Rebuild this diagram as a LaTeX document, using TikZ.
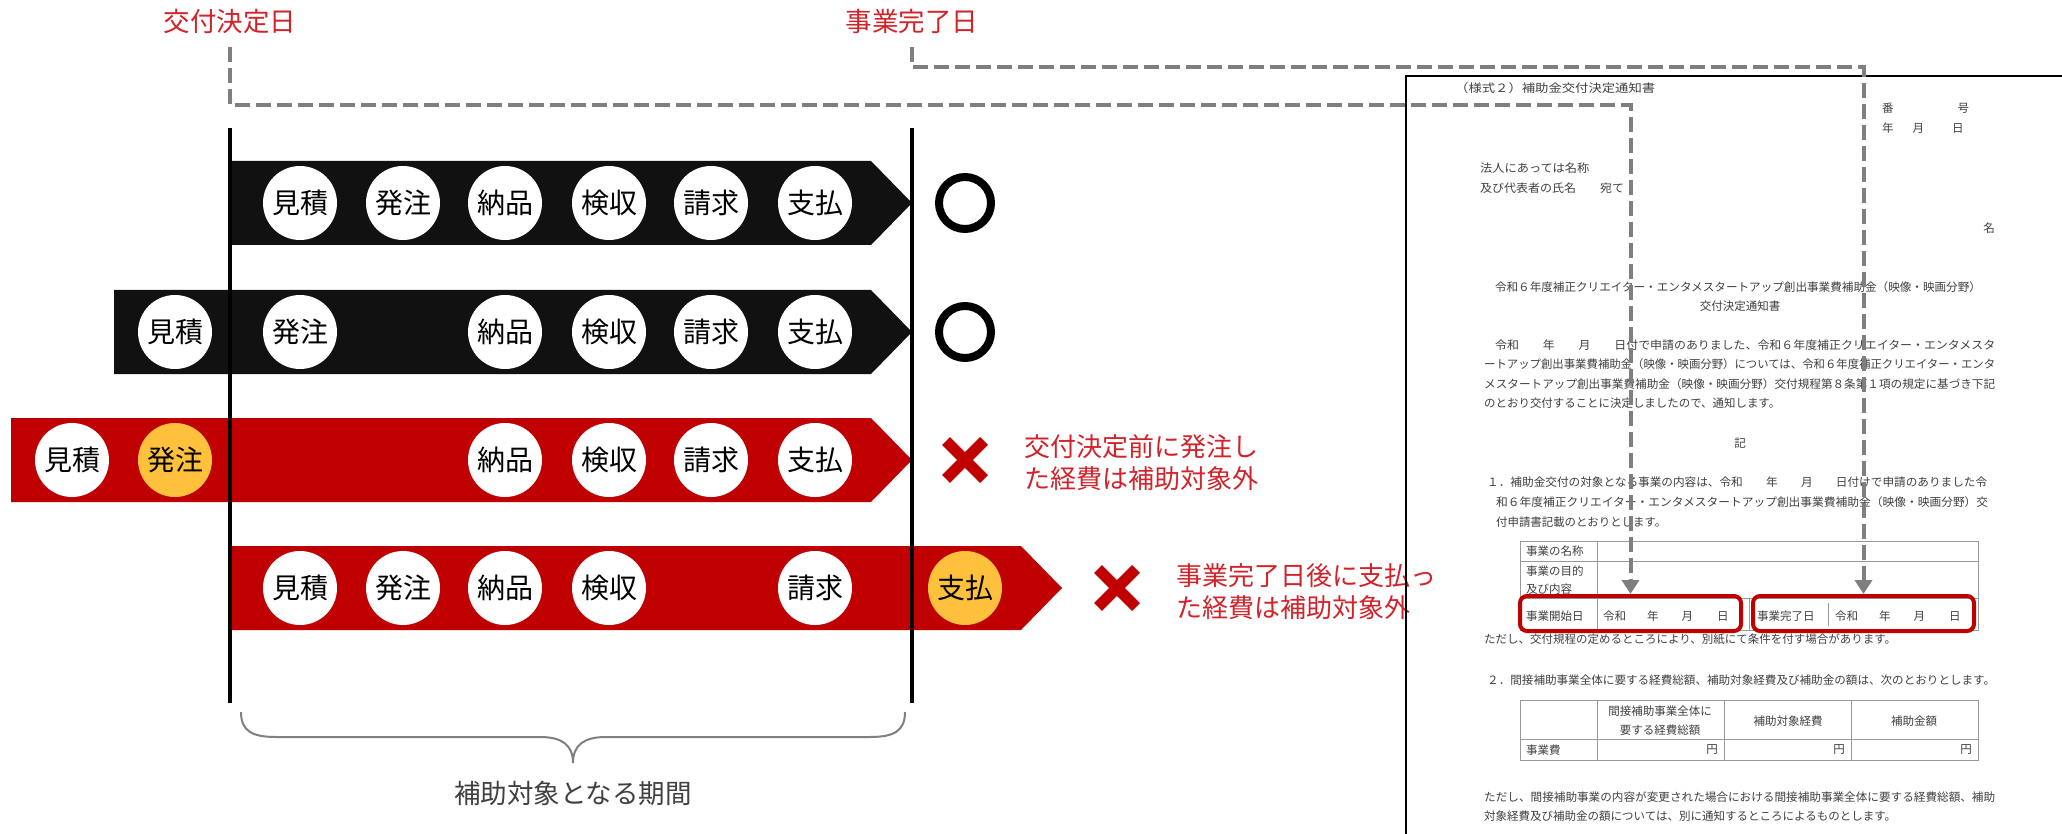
\documentclass[tikz,border=0pt]{standalone}
\usepackage{fontspec}
\setmainfont{Noto Sans CJK JP}
\usepackage{graphicx}
\usetikzlibrary{arrows.meta}
\definecolor{barblack}{HTML}{111111}
\definecolor{barred}{HTML}{C00000}
\definecolor{orng}{HTML}{FFC03C}
\definecolor{lblred}{RGB}{210,35,42}
\definecolor{dashgray}{HTML}{7F7F7F}
\definecolor{doccol}{HTML}{404040}
\newcommand{\dl}[5]{\node[doctext,anchor=west] (#1) at (#2,#3) {\resizebox{#4pt}{\height}{#5}};}
\newcommand{\rwdate}{令和\hspace{21pt}年\hspace{23pt}月\hspace{24pt}日}
\begin{document}
\begin{tikzpicture}[x=1pt,y=-1pt,
  stage/.style={circle, fill=white, minimum size=74pt, inner sep=0pt, font=\fontsize{28}{30}\selectfont, text=black},
  stagehi/.style={stage, fill=orng},
  lbl/.style={text=lblred, font=\fontsize{26.5}{30}\selectfont, inner sep=0pt},
  note/.style={text=lblred, font=\fontsize{26}{32}\selectfont, align=left, inner sep=0pt, anchor=west},
  vline/.style={line width=3.3pt, black},
  dashconn/.style={dashgray, line width=4pt, dash pattern=on 15pt off 6pt, -{Triangle[width=17pt,length=14pt]}},
  okmark/.style={line width=8pt, black},
  ngmark/.style={barred, line width=11pt},
  doctext/.style={text=doccol, font=\fontsize{11.5}{13}\selectfont, inner sep=0pt},
  redbox/.style={draw=barred, line width=4pt, rounded corners=7pt, inner sep=0pt},
  tbl/.style={draw=gray!80, line width=1pt},
  bracestyle/.style={draw=gray, line width=2pt}
]
\useasboundingbox (0,0) rectangle (2062,834);
\fill[white] (0,0) rectangle (2062,834);

% ---------- bars ----------
\fill[barblack] (230,161) -- (871,161) -- (912,203) -- (871,245) -- (230,245) -- cycle;
\fill[barblack] (114,290) -- (871,290) -- (912,332) -- (871,374) -- (114,374) -- cycle;
\fill[barred] (11,418) -- (871,418) -- (912,460) -- (871,502) -- (11,502) -- cycle;
\fill[barred] (230,546) -- (1021,546) -- (1062,588) -- (1021,630) -- (230,630) -- cycle;

% ---------- stages ----------
\node[stage] (a1) at (300,203) {見積};
\node[stage] (a2) at (403,203) {発注};
\node[stage] (a3) at (505,203) {納品};
\node[stage] (a4) at (609,203) {検収};
\node[stage] (a5) at (711,203) {請求};
\node[stage] (a6) at (815,203) {支払};

\node[stage] (b1) at (175,332) {見積};
\node[stage] (b2) at (300,332) {発注};
\node[stage] (b3) at (505,332) {納品};
\node[stage] (b4) at (609,332) {検収};
\node[stage] (b5) at (711,332) {請求};
\node[stage] (b6) at (815,332) {支払};

\node[stage] (c1) at (72,460) {見積};
\node[stagehi] (c2) at (175,460) {発注};
\node[stage] (c3) at (505,460) {納品};
\node[stage] (c4) at (609,460) {検収};
\node[stage] (c5) at (711,460) {請求};
\node[stage] (c6) at (815,460) {支払};

\node[stage] (d1) at (300,588) {見積};
\node[stage] (d2) at (403,588) {発注};
\node[stage] (d3) at (505,588) {納品};
\node[stage] (d4) at (609,588) {検収};
\node[stage] (d5) at (815,588) {請求};
\node[stagehi] (d6) at (965,588) {支払};

% ---------- period lines ----------
\draw[vline] (230,128) -- (230,703);
\draw[vline] (912,128) -- (912,703);

% ---------- marks ----------
\draw[okmark] (965,203) circle (26);
\draw[okmark] (965,332) circle (26);
\draw[ngmark] (946,441) -- (984,479) (984,441) -- (946,479);
\draw[ngmark] (1098,569) -- (1136,607) (1136,569) -- (1098,607);

\node[note] (n1) at (1024,463) {交付決定前に発注し\\た経費は補助対象外};
\node[note] (n2) at (1176,592) {事業完了日後に支払っ\\た経費は補助対象外};

% ---------- labels ----------
\node[lbl] (lbl1) at (230,21) {交付決定日};
\node[lbl] (lbl2) at (912,21) {事業完了日};

% ---------- brace ----------
\draw[bracestyle] (241,712) .. controls (241,731) and (252,737) .. (276,737) -- (540,737)
  .. controls (562,737) and (573,745) .. (573,763)
  .. controls (573,745) and (584,737) .. (606,737) -- (870,737)
  .. controls (894,737) and (905,731) .. (905,712);
\node[text=doccol, font=\fontsize{26.5}{30}\selectfont, inner sep=0pt] (period) at (573,793) {補助対象となる期間};

% ---------- document ----------
\draw[black, line width=1.2pt] (1406,850) -- (1406,76) -- (2080,76);

\dl{t0}{1455}{88}{200}{（様式２）補助金交付決定通知書}
\node[doctext,anchor=west] (t1) at (1882,108) {番\hspace{64pt}号};
\node[doctext,anchor=west] (t2) at (1882,128) {年\hspace{19pt}月\hspace{28pt}日};
\dl{t3}{1480}{168}{109}{法人にあっては名称}
\dl{t4}{1480}{188}{144}{及び代表者の氏名　　宛て}
\node[doctext] (t5) at (1989,228) {名};
\node[doctext] (t6) at (1738,287) {\resizebox{486pt}{\height}{令和６年度補正クリエイター・エンタメスタートアップ創出事業費補助金（映像・映画分野）}};
\node[doctext] (t7) at (1740,306) {交付決定通知書};
\dl{p1}{1495}{345}{500}{令和　　年　　月　　日付で申請のありました、令和６年度補正クリエイター・エンタメスタ}
\dl{p2}{1484}{364}{511}{ートアップ創出事業費補助金（映像・映画分野）については、令和６年度補正クリエイター・エンタ}
\dl{p3}{1484}{384}{511}{メスタートアップ創出事業費補助金（映像・映画分野）交付規程第８条第１項の規定に基づき下記}
\dl{p4}{1484}{403}{296}{のとおり交付することに決定しましたので、通知します。}
\node[doctext] (ki) at (1740,443) {記};
\dl{s1}{1487}{482}{500}{１．補助金交付の対象となる事業の内容は、令和　　年　　月　　日付けで申請のありました令}
\dl{s2}{1496}{502}{492}{和６年度補正クリエイター・エンタメスタートアップ創出事業費補助金（映像・映画分野）交}
\dl{s3}{1496}{522}{170}{付申請書記載のとおりとします。}

% table 1
\draw[tbl] (1520,541) rectangle (1978,630);
\draw[tbl] (1520,561) -- (1978,561);
\draw[tbl] (1520,598) -- (1978,598);
\draw[tbl] (1597,541) -- (1597,630);
\draw[tbl] (1749,598) -- (1749,630);
\draw[tbl] (1828,603) -- (1828,626);
\node[doctext,anchor=west] (u1) at (1526,551) {事業の名称};
\node[doctext,anchor=west] (u2) at (1526,571) {事業の目的};
\node[doctext,anchor=west] (u3) at (1526,589) {及び内容};
\node[doctext,anchor=west] (u4) at (1526,616) {事業開始日};
\node[doctext,anchor=west] (u5) at (1603,616) {\rwdate};
\node[doctext,anchor=west] (u6) at (1757,616) {事業完了日};
\node[doctext,anchor=west] (u7) at (1835,616) {\rwdate};

\node[redbox, minimum width=221pt, minimum height=35pt] (box1) at (1630.5,613.5) {};
\node[redbox, minimum width=221pt, minimum height=35pt] (box2) at (1863.5,613.5) {};

\dl{v1}{1484}{639}{412}{ただし、交付規程の定めるところにより、別紙にて条件を付す場合があります。}
\dl{v2}{1487}{680}{508}{２．間接補助事業全体に要する経費総額、補助対象経費及び補助金の額は、次のとおりとします。}

% table 2
\draw[tbl] (1520,700) rectangle (1978,760);
\draw[tbl] (1520,739) -- (1978,739);
\draw[tbl] (1597,700) -- (1597,760);
\draw[tbl] (1724,700) -- (1724,760);
\draw[tbl] (1851,700) -- (1851,760);
\node[doctext] (w1) at (1660,711) {間接補助事業全体に};
\node[doctext] (w2) at (1660,730) {要する経費総額};
\node[doctext] (w3) at (1788,721) {補助対象経費};
\node[doctext] (w4) at (1914,721) {補助金額};
\node[doctext,anchor=west] (w5) at (1526,750) {事業費};
\node[doctext,anchor=east] (w6) at (1718,750) {円};
\node[doctext,anchor=east] (w7) at (1845,750) {円};
\node[doctext,anchor=east] (w8) at (1972,750) {円};

\dl{x1}{1484}{797}{511}{ただし、間接補助事業の内容が変更された場合における間接補助事業全体に要する経費総額、補助}
\dl{x2}{1484}{816}{412}{対象経費及び補助金の額については、別に通知するところによるものとします。}

% ---------- dashed connectors ----------
\coordinate (h1) at (0,105);
\coordinate (h2) at (0,67);
\draw[dashconn] ([yshift=-14pt]lbl1.south) |- (box1.north |- h1) -- (box1.north);
\draw[dashconn] ([yshift=-14pt]lbl2.south) |- (box2.north |- h2) -- (box2.north);
\end{tikzpicture}
\end{document}
